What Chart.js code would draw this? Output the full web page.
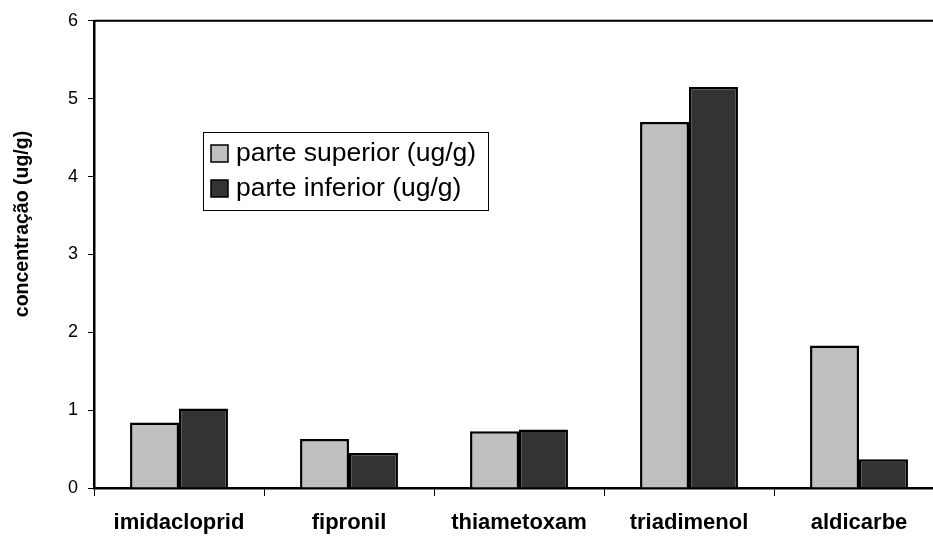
<!DOCTYPE html>
<html>
<head>
<meta charset="utf-8">
<script src="https://cdn.jsdelivr.net/npm/chart.js@4/dist/chart.umd.min.js"></script>
<style>
html,body{margin:0;padding:0;overflow:hidden;background:#fff;width:933px;height:537px;}
#wrap{width:946px;height:537px;}
</style>
</head>
<body>
<div id="wrap"><canvas id="c" width="946" height="537"></canvas></div>
<script>
const categories = ["imidacloprid", "fipronil", "thiametoxam", "triadimenol", "aldicarbe"];
const superiorValues = [0.84, 0.63, 0.73, 4.70, 1.83];
const inferiorValues = [1.02, 0.45, 0.75, 5.15, 0.37];
const seriesLabels = ["parte superior (ug/g)", "parte inferior (ug/g)"];
const yTicks = [0, 1, 2, 3, 4, 5, 6];
const yTitle = "concentração (ug/g)";

const FONT = "'Liberation Sans', Arial, sans-serif";

const framePlugin = {
  id: 'frame',
  afterDraw(chart) {
    const {ctx, chartArea: a} = chart;
    ctx.save();
    ctx.strokeStyle = '#000';
    ctx.lineWidth = 2;
    ctx.beginPath();
    ctx.moveTo(a.left, a.top);
    ctx.lineTo(a.right, a.top);
    ctx.lineTo(a.right, a.bottom);
    ctx.stroke();
    // y title
    ctx.fillStyle = '#000';
    ctx.font = "bold 19.5px " + FONT;
    ctx.textAlign = 'center';
    ctx.textBaseline = 'middle';
    ctx.translate(23, 224);
    ctx.rotate(-Math.PI / 2);
    ctx.fillText(yTitle, 0, 0);
    ctx.restore();

    // legend
    ctx.save();
    const bx = 203, by = 132, bw = 285, bh = 78;
    ctx.fillStyle = '#fff';
    ctx.fillRect(bx, by, bw, bh);
    ctx.strokeStyle = '#000';
    ctx.lineWidth = 1;
    ctx.strokeRect(bx + 0.5, by + 0.5, bw, bh);
    ctx.font = "26.5px " + FONT;
    ctx.textAlign = 'left';
    ctx.textBaseline = 'middle';
    chart.data.datasets.forEach((ds, i) => {
      const cy = 153 + i * 35;
      ctx.fillStyle = ds.backgroundColor;
      ctx.fillRect(211, cy - 8, 17, 17);
      ctx.lineWidth = 1.5;
      ctx.strokeStyle = '#000';
      ctx.strokeRect(211, cy - 8, 17, 17);
      ctx.fillStyle = '#000';
      ctx.fillText(ds.label, 236, cy + 1);
    });
    ctx.restore();
  }
};

new Chart(document.getElementById('c'), {
  type: 'bar',
  data: {
    labels: categories,
    datasets: [
      { label: seriesLabels[0], data: superiorValues, backgroundColor: '#C0C0C0', borderColor: '#000', borderWidth: 2.5 },
      { label: seriesLabels[1], data: inferiorValues, backgroundColor: '#333333', borderColor: '#000', borderWidth: 2.5 }
    ]
  },
  options: {
    responsive: false,
    animation: false,
    devicePixelRatio: 1,
    categoryPercentage: 0.576,
    barPercentage: 1,
    layout: { padding: { top: 19, right: 2, left: 0, bottom: 0 } },
    plugins: { legend: { display: false }, tooltip: { enabled: false } },
    scales: {
      x: {
        grid: { offset: true, drawOnChartArea: false, drawTicks: true, tickLength: 8, color: '#000', lineWidth: 1 },
        border: { display: true, color: '#000', width: 2.5 },
        ticks: { color: '#000', font: { family: FONT, size: 22, weight: 'bold' }, padding: 14, maxRotation: 0, autoSkip: false },
        afterFit(s) { s.height = 49; }
      },
      y: {
        min: 0, max: 6,
        afterBuildTicks(s) { s.ticks = yTicks.map(v => ({ value: v })); },
        grid: { drawOnChartArea: false, drawTicks: true, tickLength: 6, color: '#000', lineWidth: 1 },
        border: { display: true, color: '#000', width: 2.5 },
        ticks: { color: '#000', font: { family: FONT, size: 18 }, padding: 10 },
        afterFit(s) { s.width = 94; }
      }
    }
  },
  plugins: [framePlugin]
});
</script>
</body>
</html>
